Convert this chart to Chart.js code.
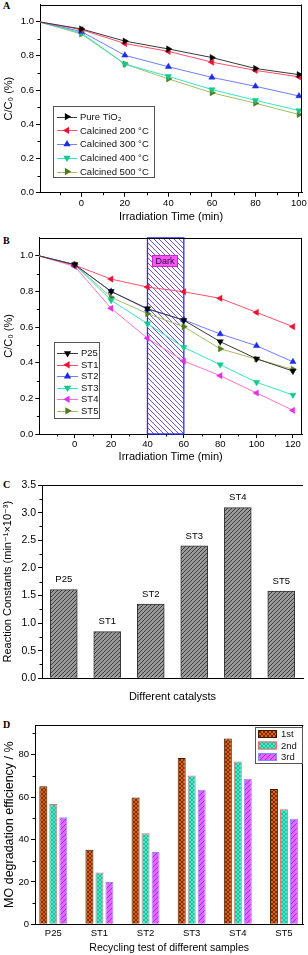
<!DOCTYPE html>
<html>
<head>
<meta charset="utf-8">
<script src="https://cdn.jsdelivr.net/npm/chart.js@4.4.1/dist/chart.umd.min.js"></script>
<style>
  body { margin: 0; background: #fff; width: 308px; height: 955px; position: relative; overflow: hidden; }
  canvas { position: absolute; left: 0; }
  .tag { position: absolute; left: 3px; font: bold 10px 'Liberation Serif', 'Times New Roman', serif; line-height: 10px; color: #000; }
</style>
</head>
<body>
<div class="tag" style="top:1px">A</div>
<div class="tag" style="top:236px">B</div>
<div class="tag" style="top:480px">C</div>
<div class="tag" style="top:720px">D</div>
<canvas id="chartA" width="308" height="232" style="top:0px"></canvas>
<canvas id="chartB" width="308" height="250" style="top:230px"></canvas>
<canvas id="chartC" width="308" height="240" style="top:480px"></canvas>
<canvas id="chartD" width="308" height="235" style="top:720px"></canvas>
<script>
// ---- panel A: calcination temperature
const timeA = [-20, 0, 20, 40, 60, 80, 100];
const pureTiO2 = [1.0, 0.957, 0.886, 0.84, 0.79, 0.726, 0.69];
const calcined200 = [1.0, 0.953, 0.872, 0.826, 0.763, 0.715, 0.677];
const calcined300 = [1.0, 0.942, 0.803, 0.736, 0.674, 0.622, 0.565];
const calcined400 = [1.0, 0.934, 0.752, 0.68, 0.603, 0.54, 0.48];
const calcined500 = [1.0, 0.928, 0.752, 0.665, 0.584, 0.523, 0.457];
const ticksAx = [0, 20, 40, 60, 80, 100];
const minorAx = [-10, 10, 30, 50, 70, 90];
const ticksAy = [0, 0.2, 0.4, 0.6, 0.8, 1.0];
const minorAy = [0.1, 0.3, 0.5, 0.7, 0.9];

// ---- panel B: samples, with dark period
const timeB = [-20, 0, 20, 40, 60, 80, 100, 120];
const p25 = [1.0, 0.95, 0.80, 0.703, 0.638, 0.518, 0.422, 0.353];
const st1 = [1.0, 0.947, 0.869, 0.824, 0.798, 0.761, 0.682, 0.602];
const st2 = [1.0, 0.95, 0.80, 0.70, 0.64, 0.561, 0.495, 0.405];
const st3 = [1.0, 0.95, 0.75, 0.619, 0.486, 0.389, 0.29, 0.219];
const st4 = [1.0, 0.94, 0.705, 0.537, 0.409, 0.327, 0.23, 0.133];
const st5 = [1.0, 0.95, 0.767, 0.675, 0.602, 0.478, 0.42, 0.363];
const darkPeriod = [40, 60];
const ticksBx = [0, 20, 40, 60, 80, 100, 120];
const minorBx = [-10, 10, 30, 50, 70, 90, 110];
const ticksBy = [0, 0.2, 0.4, 0.6, 0.8, 1.0];
const minorBy = [0.1, 0.3, 0.5, 0.7, 0.9];

// ---- panel C: reaction constants
const catalysts = ['P25', 'ST1', 'ST2', 'ST3', 'ST4', 'ST5'];
const rateConstants = [1.605, 0.844, 1.346, 2.397, 3.09, 1.58];
const ticksCy = [0, 0.5, 1.0, 1.5, 2.0, 2.5, 3.0, 3.5];
const minorCy = [0.25, 0.75, 1.25, 1.75, 2.25, 2.75, 3.25];

// ---- panel D: recycling test
const samplesD = ['P25', 'ST1', 'ST2', 'ST3', 'ST4', 'ST5'];
const run1st = [65.1, 35.2, 59.8, 78.4, 87.6, 63.8];
const run2nd = [56.7, 24.4, 43.0, 70.2, 76.8, 54.3];
const run3rd = [50.5, 20.0, 34.1, 63.5, 68.6, 49.8];
const ticksDy = [0, 20, 40, 60, 80];
const minorDy = [10, 30, 50, 70, 90];

const FONT = "'Liberation Sans', Arial, 'DejaVu Sans', sans-serif";
Chart.defaults.font.family = FONT;
Chart.defaults.color = '#000';
Chart.defaults.animation = false;

// hatch patterns
function hatch(bg, fg, size, dirs, lw) {
  const c = document.createElement('canvas');
  c.width = c.height = size;
  const g = c.getContext('2d');
  g.fillStyle = bg;
  g.fillRect(0, 0, size, size);
  g.strokeStyle = fg;
  g.lineWidth = lw;
  dirs.forEach(d => {
    g.beginPath();
    if (d === '/') {
      g.moveTo(-1, size + 1); g.lineTo(size + 1, -1);
      g.moveTo(-1, 1); g.lineTo(1, -1);
      g.moveTo(size - 1, size + 1); g.lineTo(size + 1, size - 1);
    } else {
      g.moveTo(-1, -1); g.lineTo(size + 1, size + 1);
      g.moveTo(size - 1, -1); g.lineTo(size + 1, 1);
      g.moveTo(-1, size - 1); g.lineTo(1, size + 1);
    }
    g.stroke();
  });
  return g.createPattern(c, 'repeat');
}

function tri(ctx, x, y, rot, r, color) {
  ctx.save();
  ctx.translate(x, y);
  ctx.rotate(rot * Math.PI / 180);
  ctx.beginPath();
  ctx.moveTo(0, -r);
  ctx.lineTo(r * 0.866, r * 0.5);
  ctx.lineTo(-r * 0.866, r * 0.5);
  ctx.closePath();
  ctx.fillStyle = color;
  ctx.fill();
  ctx.restore();
}

// axis builders that pin the plot area to fixed pixels
function yAxis(o) {
  return {
    type: 'linear', min: o.min, max: o.max,
    afterBuildTicks: s => { s.ticks = o.ticks.map(v => ({ value: v })); },
    afterFit: s => { s.width = o.width; s.paddingTop = 0; s.paddingBottom = 0; },
    grid: { drawOnChartArea: false, color: '#000', tickLength: 4 },
    border: { color: '#000' },
    ticks: { font: { size: o.font }, padding: 2, color: '#000', callback: o.fmt },
    title: { display: true, text: o.title, color: '#000', font: { size: o.titleSize }, padding: { top: o.titlePad, bottom: 0 } }
  };
}
function xAxis(o) {
  return {
    type: o.type || 'linear', min: o.min, max: o.max, offset: o.offset || false,
    afterBuildTicks: o.ticks ? (s => { s.ticks = o.ticks.map(v => ({ value: v })); }) : undefined,
    afterFit: s => { s.height = o.height; s.paddingLeft = 0; s.paddingRight = 0; },
    grid: { drawOnChartArea: false, color: '#000', tickLength: 4, drawTicks: o.drawTicks !== false, offset: false },
    border: { color: '#000' },
    ticks: { display: o.showTicks !== false, font: { size: o.font }, padding: o.tickPad || 1, color: '#000', maxRotation: 0, autoSkip: false, callback: o.fmt },
    title: { display: true, text: o.title, color: '#000', font: { size: o.titleSize }, padding: { top: 0, bottom: o.titlePad } }
  };
}

function decor(spec) {
  return {
    id: 'decor' + spec.name,
    beforeDatasetsDraw(chart) {
      if (!spec.dark) return;
      const { ctx, chartArea: a, scales } = chart;
      const x0 = scales.x.getPixelForValue(spec.dark[0]);
      const x1 = scales.x.getPixelForValue(spec.dark[1]);
      ctx.save();
      ctx.fillStyle = hatch('#ffffff', '#6a50e6', 5, ['\\'], 1);
      ctx.fillRect(x0, a.top, x1 - x0, a.bottom - a.top);
      ctx.strokeStyle = '#2a2aff';
      ctx.lineWidth = 1.3;
      ctx.strokeRect(x0, a.top, x1 - x0, a.bottom - a.top);
      ctx.restore();
    },
    afterDatasetsDraw(chart) {
      const { ctx } = chart;
      if (spec.dark) {
        ctx.save();
        ctx.fillStyle = '#ff55f2';
        ctx.fillRect(152, 25, 26, 12);
        ctx.strokeStyle = '#c828c8';
        ctx.lineWidth = 1;
        ctx.strokeRect(152.5, 25.5, 25, 11);
        ctx.fillStyle = '#101040';
        ctx.font = '9px ' + FONT;
        ctx.textAlign = 'center';
        ctx.textBaseline = 'middle';
        ctx.fillText('Dark', 165, 31.5);
        ctx.restore();
      }
      if (spec.barLabels) {
        ctx.save();
        ctx.font = '9.5px ' + FONT;
        ctx.fillStyle = '#000';
        ctx.textAlign = 'center';
        ctx.textBaseline = 'middle';
        chart.getDatasetMeta(0).data.forEach((bar, i) => {
          ctx.fillText(chart.data.labels[i], bar.x, bar.y - 10);
        });
        ctx.restore();
      }
    },
    afterDraw(chart) {
      const { ctx, chartArea: a, scales } = chart;
      ctx.save();
      ctx.strokeStyle = '#000';
      ctx.lineWidth = 1;
      ctx.beginPath();
      if (spec.frameTop) { ctx.moveTo(a.left, Math.round(a.top) + 0.5); ctx.lineTo(a.right, Math.round(a.top) + 0.5); }
      if (spec.frameRight) { ctx.moveTo(Math.round(a.right) - 0.5, a.top); ctx.lineTo(Math.round(a.right) - 0.5, a.bottom); }
      (spec.xMinor || []).forEach(v => {
        const px = Math.round(scales.x.getPixelForValue(v)) + 0.5;
        ctx.moveTo(px, a.bottom); ctx.lineTo(px, a.bottom + 2.5);
      });
      (spec.yMinor || []).forEach(v => {
        const py = Math.round(scales.y.getPixelForValue(v)) + 0.5;
        ctx.moveTo(a.left - 2.5, py); ctx.lineTo(a.left, py);
      });
      ctx.stroke();
      if (spec.legend) spec.legend(ctx, chart);
      ctx.restore();
    }
  };
}

function lineLegend(box, row0, rowStep, lineX, textX, fontSize) {
  return (ctx, chart) => {
    ctx.strokeStyle = '#555';
    ctx.lineWidth = 1;
    ctx.strokeRect(box[0] + 0.5, box[1] + 0.5, box[2] - box[0], box[3] - box[1]);
    ctx.font = fontSize + 'px ' + FONT;
    ctx.textBaseline = 'middle';
    chart.data.datasets.forEach((ds, i) => {
      const y = row0 + i * rowStep;
      ctx.strokeStyle = ds.borderColor;
      ctx.beginPath();
      ctx.moveTo(lineX[0], Math.round(y) + 0.5);
      ctx.lineTo(lineX[1], Math.round(y) + 0.5);
      ctx.stroke();
      tri(ctx, (lineX[0] + lineX[1]) / 2, y, ds.pointRotation, 4.2, ds.pointBackgroundColor);
      ctx.fillStyle = '#111';
      ctx.fillText(ds.label, textX, y + 0.5);
    });
  };
}

function barLegend(box, row0, rowStep, sw, textX, fontSize) {
  return (ctx, chart) => {
    ctx.strokeStyle = '#555';
    ctx.lineWidth = 1;
    ctx.strokeRect(box[0] + 0.5, box[1] + 0.5, box[2] - box[0], box[3] - box[1]);
    ctx.font = fontSize + 'px ' + FONT;
    ctx.textBaseline = 'middle';
    chart.data.datasets.forEach((ds, i) => {
      const y = row0 + i * rowStep;
      ctx.fillStyle = ds.backgroundColor;
      ctx.fillRect(sw[0], y - sw[2] / 2, sw[1] - sw[0], sw[2]);
      ctx.strokeStyle = ds.borderColor;
      ctx.strokeRect(sw[0] + 0.5, y - sw[2] / 2 + 0.5, sw[1] - sw[0] - 1, sw[2] - 1);
      ctx.fillStyle = '#111';
      ctx.fillText(ds.label, textX, y + 0.5);
    });
  };
}

function lineSets(series, xs) {
  return series.map(s => ({
    label: s.label,
    data: xs.map((x, i) => ({ x: x, y: s.values[i] })),
    borderColor: s.line,
    borderWidth: 1,
    backgroundColor: s.mark,
    pointBackgroundColor: s.mark,
    pointBorderColor: s.mark,
    pointBorderWidth: 0.5,
    pointStyle: 'triangle',
    pointRotation: s.rot,
    pointRadius: ctx => ctx.dataIndex === 0 ? 0 : 3.6,
    tension: 0
  }));
}

const fmt1 = v => Number(v).toFixed(1);

// Panel A
new Chart(document.getElementById('chartA'), {
  type: 'line',
  data: {
    datasets: lineSets([
      { label: 'Pure TiO₂', values: pureTiO2, line: '#3a3a3a', mark: '#000000', rot: 90 },
      { label: 'Calcined 200 °C', values: calcined200, line: '#ff4f6a', mark: '#f01030', rot: 270 },
      { label: 'Calcined 300 °C', values: calcined300, line: '#6f7dff', mark: '#1a2ee0', rot: 0 },
      { label: 'Calcined 400 °C', values: calcined400, line: '#33e6c4', mark: '#14c88c', rot: 180 },
      { label: 'Calcined 500 °C', values: calcined500, line: '#a3bd63', mark: '#4f7a1c', rot: 90 }
    ], timeA)
  },
  options: {
    responsive: false,
    layout: { padding: { left: 0, right: 6, top: 1.6, bottom: 0 } },
    plugins: { legend: { display: false }, tooltip: { enabled: false } },
    scales: {
      x: xAxis({ min: -19, max: 101.4, ticks: ticksAx, height: 39.3, font: 9.5, title: 'Irradiation Time (min)', titleSize: 11, titlePad: 8.4 }),
      y: yAxis({ min: 0, max: 1.1, ticks: ticksAy, width: 40, font: 9.5, fmt: fmt1, title: 'C/C₀ (%)', titleSize: 11, titlePad: 2.4 })
    }
  },
  plugins: [decor({ name: 'A', frameTop: true, frameRight: true, xMinor: minorAx, yMinor: minorAy,
    legend: lineLegend([53, 106, 154, 177], 116.7, 13.7, [57, 77], 80, 9.5) })]
});

// Panel B
new Chart(document.getElementById('chartB'), {
  type: 'line',
  data: {
    datasets: lineSets([
      { label: 'P25', values: p25, line: '#3a3a3a', mark: '#000000', rot: 180 },
      { label: 'ST1', values: st1, line: '#ff4f6a', mark: '#f01030', rot: 270 },
      { label: 'ST2', values: st2, line: '#6f7dff', mark: '#1a2ee0', rot: 0 },
      { label: 'ST3', values: st3, line: '#33e6c4', mark: '#14c88c', rot: 180 },
      { label: 'ST4', values: st4, line: '#ff72c8', mark: '#e030e8', rot: 270 },
      { label: 'ST5', values: st5, line: '#a3bd63', mark: '#4f7a1c', rot: 90 }
    ], timeB)
  },
  options: {
    responsive: false,
    layout: { padding: { left: 0, right: 6, top: 7.9, bottom: 0 } },
    plugins: { legend: { display: false }, tooltip: { enabled: false } },
    scales: {
      x: xAxis({ min: -19.5, max: 125, ticks: ticksBx, height: 46, font: 9.5, title: 'Irradiation Time (min)', titleSize: 11, titlePad: 16.7 }),
      y: yAxis({ min: 0, max: 1.1, ticks: ticksBy, width: 39.3, font: 9.5, fmt: fmt1, title: 'C/C₀ (%)', titleSize: 11, titlePad: 2.4 })
    }
  },
  plugins: [decor({ name: 'B', frameTop: true, frameRight: true, xMinor: minorBx, yMinor: minorBy, dark: darkPeriod,
    legend: lineLegend([54, 112, 99, 188], 123.3, 11.5, [57, 78], 81, 9.5) })]
});

// Panel C
new Chart(document.getElementById('chartC'), {
  type: 'bar',
  data: {
    labels: catalysts,
    datasets: [{
      data: rateConstants,
      backgroundColor: hatch('#9a9a9a', '#3c3c3c', 4, ['/'], 1),
      borderColor: '#333',
      borderWidth: 1,
      barThickness: 27
    }]
  },
  options: {
    responsive: false,
    layout: { padding: { left: 0, right: 5, top: 5, bottom: 0 } },
    plugins: { legend: { display: false }, tooltip: { enabled: false } },
    scales: {
      x: xAxis({ type: 'category', offset: true, height: 41.7, showTicks: false, drawTicks: false, font: 10, title: 'Different catalysts', titleSize: 11, titlePad: 16.4 }),
      y: yAxis({ min: 0, max: 3.5, ticks: ticksCy, width: 42, font: 10.5, fmt: fmt1, title: 'Reaction Constants (min⁻¹×10⁻³)', titleSize: 11, titlePad: 1.4 })
    }
  },
  plugins: [decor({ name: 'C', frameTop: true, yMinor: minorCy, barLabels: true })]
});

// Panel D
const xsD = samplesD.map((s, i) => i + 1);
function barSet(label, values, bg, border) {
  return {
    label: label,
    data: xsD.map((x, i) => ({ x: x, y: values[i] })),
    backgroundColor: bg,
    borderColor: border,
    borderWidth: 1,
    categoryPercentage: 0.65,
    barPercentage: 0.8
  };
}
new Chart(document.getElementById('chartD'), {
  type: 'bar',
  data: {
    datasets: [
      barSet('1st', run1st, hatch('#e8600c', '#5a2000', 4, ['/', '\\'], 0.8), '#3a1a00'),
      barSet('2nd', run2nd, hatch('#40eec8', '#169a80', 4, ['/', '\\'], 0.6), '#f06a6a'),
      barSet('3rd', run3rd, hatch('#f060f8', '#7a40ff', 5, ['/'], 1), '#8a8aff')
    ]
  },
  options: {
    responsive: false,
    layout: { padding: { left: 0, right: 4.7, top: 5, bottom: 0 } },
    plugins: { legend: { display: false }, tooltip: { enabled: false } },
    scales: {
      x: xAxis({ min: 0.603, max: 6.42, ticks: xsD, height: 30.7, drawTicks: false, tickPad: 3, font: 9.5,
        fmt: v => samplesD[v - 1], title: 'Recycling test of different samples', titleSize: 10.5, titlePad: 0.3 }),
      y: yAxis({ min: 0, max: 94, ticks: ticksDy, width: 35, font: 9.5, title: 'MO degradation efficiency / %', titleSize: 12.5, titlePad: 2.5 })
    }
  },
  plugins: [decor({ name: 'D', frameTop: true, frameRight: true, yMinor: minorDy,
    legend: barLegend([255, 7, 302, 43], 14, 11.5, [258, 277, 8], 281, 9.5) })]
});
</script>
</body>
</html>
